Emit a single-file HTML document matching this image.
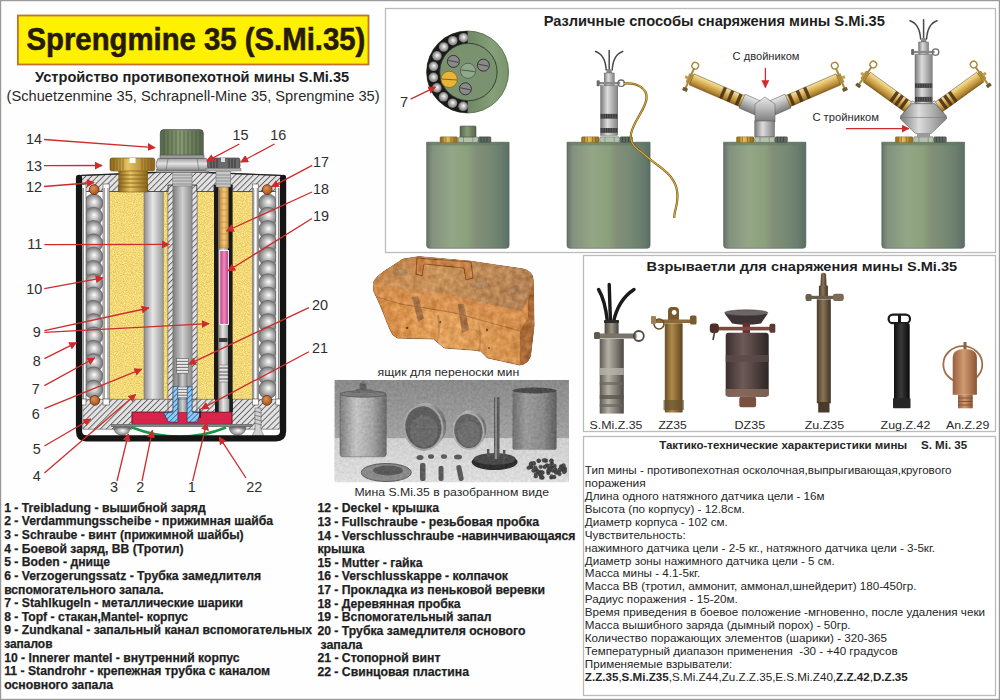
<!DOCTYPE html>
<html><head><meta charset="utf-8">
<style>
html,body{margin:0;padding:0;background:#fff;}
body{width:1000px;height:700px;overflow:hidden;font-family:"Liberation Sans",sans-serif;}
svg{display:block;}
text{font-family:"Liberation Sans",sans-serif;}
.b{font-weight:bold;}
</style></head><body>
<svg width="1000" height="700" viewBox="0 0 1000 700">
<defs>
<pattern id="hatch" patternUnits="userSpaceOnUse" width="4.2" height="4.2" patternTransform="rotate(45)">
<rect width="4.2" height="4.2" fill="#e2e2e2"/><rect x="0" width="0.9" height="4.2" fill="#5e5e5e"/>
</pattern>
<filter id="grain" x="0" y="0" width="1" height="1" color-interpolation-filters="sRGB">
<feTurbulence type="fractalNoise" baseFrequency="0.9" numOctaves="2" seed="7" result="n"/>
<feColorMatrix in="n" type="matrix" values="1 0 0 0 0  1 0 0 0 0  1 0 0 0 0  0 0 0 0 1" result="g"/>
<feComposite in="SourceGraphic" in2="g" operator="arithmetic" k1="0" k2="1" k3="0.3" k4="-0.15"/>
</filter>
<filter id="grain2" x="0" y="0" width="1" height="1" color-interpolation-filters="sRGB">
<feTurbulence type="fractalNoise" baseFrequency="0.16" numOctaves="4" seed="3" result="n"/>
<feColorMatrix in="n" type="matrix" values="1 0 0 0 0  1 0 0 0 0  1 0 0 0 0  0 0 0 0 1" result="g"/>
<feComposite in="SourceGraphic" in2="g" operator="arithmetic" k1="0" k2="1" k3="0.26" k4="-0.13" result="c"/>
<feComposite in="c" in2="SourceGraphic" operator="in"/>
</filter>
<filter id="grain3" x="0" y="0" width="1" height="1" color-interpolation-filters="sRGB">
<feTurbulence type="fractalNoise" baseFrequency="0.35" numOctaves="3" seed="11" result="n"/>
<feColorMatrix in="n" type="matrix" values="1 0 0 0 0  1 0 0 0 0  1 0 0 0 0  0 0 0 0 1" result="g"/>
<feComposite in="SourceGraphic" in2="g" operator="arithmetic" k1="0" k2="1" k3="0.12" k4="-0.06" result="c"/>
<feComposite in="c" in2="SourceGraphic" operator="in"/>
</filter>
<pattern id="bhatch" patternUnits="userSpaceOnUse" width="3.6" height="3.6" patternTransform="rotate(45)">
<rect width="3.6" height="3.6" fill="#90ccf2"/><rect x="0" width="0.9" height="3.6" fill="#3a70b0"/>
</pattern>
<pattern id="speck" patternUnits="userSpaceOnUse" width="7" height="7">
<rect width="7" height="7" fill="#f3d77a"/>
<circle cx="1.5" cy="1.5" r="0.7" fill="#fbeaa8"/><circle cx="5" cy="3.5" r="0.6" fill="#e2c25c"/>
<circle cx="3" cy="5.5" r="0.6" fill="#fbe8a0"/><circle cx="6" cy="6.2" r="0.5" fill="#dcb954"/>
</pattern>
<linearGradient id="tubeG" x1="0" x2="1" y1="0" y2="0">
<stop offset="0" stop-color="#8c8c8c"/><stop offset="0.45" stop-color="#e6e6e6"/><stop offset="1" stop-color="#9a9a9a"/>
</linearGradient>
<linearGradient id="tubeD" x1="0" x2="1" y1="0" y2="0">
<stop offset="0" stop-color="#7c7c7c"/><stop offset="0.5" stop-color="#cfcfcf"/><stop offset="1" stop-color="#8a8a8a"/>
</linearGradient>
<radialGradient id="ballG" cx="0.5" cy="0.5" r="0.5" fx="0.55" fy="0.42">
<stop offset="0" stop-color="#ffffff"/><stop offset="0.22" stop-color="#dedede"/><stop offset="0.6" stop-color="#aaaaaa"/><stop offset="1" stop-color="#747474"/>
</radialGradient>
<radialGradient id="rope" cx="0.4" cy="0.35" r="0.7">
<stop offset="0" stop-color="#e09050"/><stop offset="1" stop-color="#a0501c"/>
</radialGradient>
<linearGradient id="brassG" x1="0" x2="1" y1="0" y2="0">
<stop offset="0" stop-color="#8a6418"/><stop offset="0.4" stop-color="#e8c462"/><stop offset="1" stop-color="#8a6418"/>
</linearGradient>
<linearGradient id="capG" x1="0" x2="1" y1="0" y2="0">
<stop offset="0" stop-color="#55664a"/><stop offset="0.45" stop-color="#8a9b74"/><stop offset="1" stop-color="#55664a"/>
</linearGradient>
<linearGradient id="nutG" x1="0" x2="0" y1="0" y2="1">
<stop offset="0" stop-color="#9c9c9c"/><stop offset="0.45" stop-color="#e4e4e4"/><stop offset="1" stop-color="#8a8a8a"/>
</linearGradient>
<linearGradient id="woodG" x1="0" x2="1" y1="0" y2="0">
<stop offset="0" stop-color="#c88c38"/><stop offset="0.5" stop-color="#efcb7c"/><stop offset="1" stop-color="#c88c38"/>
</linearGradient>
<linearGradient id="pinkG" x1="0" x2="1" y1="0" y2="0">
<stop offset="0" stop-color="#b83a80"/><stop offset="0.5" stop-color="#f08ac0"/><stop offset="1" stop-color="#b83a80"/>
</linearGradient>
<linearGradient id="mineG" x1="0" x2="1" y1="0" y2="0">
<stop offset="0" stop-color="#66726a"/><stop offset="0.07" stop-color="#83917e"/><stop offset="0.3" stop-color="#93a686"/><stop offset="0.5" stop-color="#8ba07c"/><stop offset="0.6" stop-color="#838f78"/><stop offset="0.75" stop-color="#778a74"/><stop offset="0.9" stop-color="#6a7e6e"/><stop offset="1" stop-color="#5c6e66"/>
</linearGradient>
<linearGradient id="fuseG" x1="0" x2="1" y1="0" y2="0">
<stop offset="0" stop-color="#7a7a7a"/><stop offset="0.4" stop-color="#dcdcdc"/><stop offset="1" stop-color="#828282"/>
</linearGradient>
<linearGradient id="brassArm" x1="0" x2="0" y1="0" y2="1">
<stop offset="0" stop-color="#f6e4a8"/><stop offset="0.35" stop-color="#e0bc62"/><stop offset="0.75" stop-color="#b88a34"/><stop offset="1" stop-color="#8a6420"/>
</linearGradient>
<linearGradient id="armG" x1="0" x2="0" y1="0" y2="1">
<stop offset="0" stop-color="#e8e8e8"/><stop offset="0.4" stop-color="#c0c0c0"/><stop offset="1" stop-color="#7a7a7a"/>
</linearGradient>
<marker id="ah" viewBox="0 0 10 10" refX="9" refY="5" markerWidth="8" markerHeight="8" markerUnits="userSpaceOnUse" orient="auto">
<path d="M0,0 L10,5 L0,10 Z" fill="#d02a2a"/>
</marker>
<linearGradient id="boxTop" x1="0" x2="1" y1="0" y2="0.3">
<stop offset="0" stop-color="#c4844a"/><stop offset="0.45" stop-color="#c8925a"/><stop offset="1" stop-color="#b48254"/>
</linearGradient>
<linearGradient id="boxFront" x1="0" x2="1" y1="0" y2="0">
<stop offset="0" stop-color="#d48a44"/><stop offset="0.45" stop-color="#e2a25e"/><stop offset="1" stop-color="#d08c4a"/>
</linearGradient>
<linearGradient id="wallG" x1="0" x2="0" y1="0" y2="1">
<stop offset="0" stop-color="#8a8a8a"/><stop offset="1" stop-color="#a2a2a2"/>
</linearGradient>
<linearGradient id="tableG" x1="0" x2="0" y1="0" y2="1">
<stop offset="0" stop-color="#cfcfcf"/><stop offset="1" stop-color="#dedede"/>
</linearGradient>
<linearGradient id="cylG" x1="0" x2="1" y1="0" y2="0">
<stop offset="0" stop-color="#7e7e7e"/><stop offset="0.35" stop-color="#c4c4c4"/><stop offset="0.7" stop-color="#a4a4a4"/><stop offset="1" stop-color="#6a6a6a"/>
</linearGradient>
<linearGradient id="cylG2" x1="0" x2="1" y1="0" y2="0">
<stop offset="0" stop-color="#6e6e6e"/><stop offset="0.3" stop-color="#9a9a9a"/><stop offset="0.7" stop-color="#8a8a8a"/><stop offset="1" stop-color="#5e5e5e"/>
</linearGradient>
<linearGradient id="f1neck" x1="0" x2="1"><stop offset="0" stop-color="#4e4a40"/><stop offset="0.5" stop-color="#9a9488"/><stop offset="1" stop-color="#4a463e"/></linearGradient>
<linearGradient id="f1body" x1="0" x2="1"><stop offset="0" stop-color="#5e5a52"/><stop offset="0.35" stop-color="#b4b0a6"/><stop offset="0.6" stop-color="#8e8a80"/><stop offset="1" stop-color="#4e4a44"/></linearGradient>
<linearGradient id="f2body" x1="0" x2="1"><stop offset="0" stop-color="#6a4e26"/><stop offset="0.4" stop-color="#b08a4a"/><stop offset="1" stop-color="#5e4420"/></linearGradient>
<linearGradient id="f3cap" x1="0" x2="0" y1="0" y2="1"><stop offset="0" stop-color="#8a8484"/><stop offset="1" stop-color="#4a4444"/></linearGradient>
<linearGradient id="f3body" x1="0" x2="1"><stop offset="0" stop-color="#3a2e2e"/><stop offset="0.4" stop-color="#6e5a58"/><stop offset="1" stop-color="#2e2626"/></linearGradient>
<linearGradient id="f4body" x1="0" x2="1"><stop offset="0" stop-color="#4a3c2c"/><stop offset="0.45" stop-color="#8a7456"/><stop offset="1" stop-color="#3e3222"/></linearGradient>
<linearGradient id="f5body" x1="0" x2="1"><stop offset="0" stop-color="#0e0e0e"/><stop offset="0.45" stop-color="#3a3a3a"/><stop offset="1" stop-color="#0a0a0a"/></linearGradient>
<linearGradient id="f6body" x1="0" x2="1"><stop offset="0" stop-color="#9a6040"/><stop offset="0.45" stop-color="#d09a70"/><stop offset="1" stop-color="#8a5434"/></linearGradient>
<linearGradient id="topG" x1="0" x2="1" y1="0" y2="0">
<stop offset="0.5" stop-color="#6e8664"/><stop offset="0.8" stop-color="#86a078"/><stop offset="1" stop-color="#7a946e"/>
</linearGradient>

</defs>
<rect x="0" y="0" width="1000" height="700" fill="#fefefe"/>
<!-- outer border -->
<rect x="0.6" y="0.6" width="998.8" height="698.8" fill="none" stroke="#999" stroke-width="1.2"/>

<!-- panels -->
<rect x="385.5" y="8.5" width="610" height="244" fill="#fff" stroke="#bcbcbc" stroke-width="1.3"/>
<rect x="583.5" y="255.5" width="412" height="176" fill="#fff" stroke="#bcbcbc" stroke-width="1.3"/>
<rect x="583.5" y="436.5" width="412" height="259" fill="#fff" stroke="#bcbcbc" stroke-width="1.3"/>

<!-- title -->
<rect x="17.9" y="15.5" width="350.6" height="49" fill="#fff100" stroke="#c2722c" stroke-width="1.8"/>
<text x="26.5" y="50" font-size="30.5" class="b" fill="#261a0c" stroke="#261a0c" stroke-width="0.55" textLength="338.8" lengthAdjust="spacingAndGlyphs">Sprengmine 35 (S.Mi.35)</text>
<text x="35" y="81.6" font-size="14" class="b" fill="#1e1e1e" textLength="314.2" lengthAdjust="spacingAndGlyphs">Устройство противопехотной мины S.Mi.35</text>
<text x="6.6" y="101.3" font-size="14" fill="#2a2a2a" textLength="373" lengthAdjust="spacingAndGlyphs">(Schuetzenmine 35, Schrapnell-Mine 35, Sprengmine 35)</text>

<g id="diagram">
<!-- interior white background -->
<rect x="81" y="175" width="200" height="262" fill="#ffffff"/>
<!-- yellow explosive -->
<rect x="107.6" y="190" width="145.6" height="210" fill="#f2d877" filter="url(#grain)"/>
<!-- balls left & right -->
<g id="ballsL" stroke="#5e5e5e" stroke-width="0.6">
<circle cx="93.5" cy="203.2" r="9.3" fill="url(#ballG)"/>
<circle cx="93.5" cy="216.5" r="9.3" fill="url(#ballG)"/>
<circle cx="93.5" cy="229.8" r="9.3" fill="url(#ballG)"/>
<circle cx="93.5" cy="243.1" r="9.3" fill="url(#ballG)"/>
<circle cx="93.5" cy="256.4" r="9.3" fill="url(#ballG)"/>
<circle cx="93.5" cy="269.7" r="9.3" fill="url(#ballG)"/>
<circle cx="93.5" cy="283.0" r="9.3" fill="url(#ballG)"/>
<circle cx="93.5" cy="296.3" r="9.3" fill="url(#ballG)"/>
<circle cx="93.5" cy="309.6" r="9.3" fill="url(#ballG)"/>
<circle cx="93.5" cy="322.9" r="9.3" fill="url(#ballG)"/>
<circle cx="93.5" cy="336.2" r="9.3" fill="url(#ballG)"/>
<circle cx="93.5" cy="349.5" r="9.3" fill="url(#ballG)"/>
<circle cx="93.5" cy="362.8" r="9.3" fill="url(#ballG)"/>
<circle cx="93.5" cy="376.1" r="9.3" fill="url(#ballG)"/>
<circle cx="93.5" cy="389.4" r="9.3" fill="url(#ballG)"/>
</g>
<use href="#ballsL" transform="translate(174.3,0)"/>
<!-- left grey tube 9 -->
<rect x="144" y="191" width="19.2" height="209" fill="url(#tubeG)" stroke="#707070" stroke-width="0.6"/>
<!-- central tube hatched walls + tube 11 -->
<rect x="167.9" y="185" width="29.2" height="226.4" fill="url(#hatch)" stroke="#555" stroke-width="0.6"/>
<rect x="172.9" y="185" width="19.2" height="202" fill="url(#tubeD)" stroke="#666" stroke-width="0.5"/>
<rect x="172.9" y="386" width="19.2" height="26" fill="#fff"/>
<rect x="177.9" y="373" width="9.2" height="28" fill="url(#tubeD)" stroke="#666" stroke-width="0.4"/>
<!-- threads 20 in central tube -->
<g fill="#e8e8e8" stroke="#5a5a5a" stroke-width="0.6">
<rect x="176.4" y="358.6" width="12.2" height="2.6"/><rect x="176.4" y="361.6" width="12.2" height="2.6"/>
<rect x="176.4" y="364.6" width="12.2" height="2.6"/><rect x="176.4" y="367.6" width="12.2" height="2.6"/>
<rect x="176.4" y="370.6" width="12.2" height="2.6"/>
</g>
<!-- right fuse tube 19 -->
<rect x="214" y="185" width="4.6" height="215" fill="#1a1a1a"/>
<rect x="228" y="185" width="4.6" height="215" fill="#1a1a1a"/>
<rect x="218.6" y="191" width="9.4" height="218" fill="url(#tubeG)"/>
<rect x="219.6" y="186" width="9" height="62" fill="url(#woodG)" stroke="#8a5a20" stroke-width="0.5"/>
<g stroke="#a87028" stroke-width="0.4"><line x1="220" y1="192" x2="228.2" y2="192"/><line x1="220" y1="198" x2="228.2" y2="198"/><line x1="220" y1="204" x2="228.2" y2="204"/><line x1="220" y1="210" x2="228.2" y2="210"/><line x1="220" y1="216" x2="228.2" y2="216"/><line x1="220" y1="222" x2="228.2" y2="222"/><line x1="220" y1="228" x2="228.2" y2="228"/><line x1="220" y1="234" x2="228.2" y2="234"/><line x1="220" y1="240" x2="228.2" y2="240"/><line x1="220" y1="246" x2="228.2" y2="246"/></g>
<rect x="219.8" y="250.5" width="8.6" height="74" fill="url(#pinkG)" stroke="#fff" stroke-width="0.9"/>
<rect x="219" y="338" width="8.6" height="4" fill="#3a3a3a"/>
<g fill="#e0e0e0" stroke="#5a5a5a" stroke-width="0.5">
<rect x="219" y="365" width="9" height="2.6"/><rect x="219" y="368.6" width="9" height="2.6"/><rect x="219" y="372.2" width="9" height="2.6"/><rect x="219" y="375.8" width="9" height="2.6"/><rect x="219" y="379.4" width="9" height="2.6"/>
</g>

<!-- lid 12 (hatched) -->
<path d="M80.5,175.6 L181,171.6 L282,175.6 L282,191.5 L232.6,191.5 L232.6,185 L214,185 L214,191.5 L196.8,191.5 L196.8,185 L168,185 L168,191.5 L147.6,191.5 L147.6,185 L118.8,185 L118.8,191.5 L80.5,191.5 Z" fill="url(#hatch)" stroke="#333" stroke-width="0.8"/>
<path d="M81,175.4 L181,171.4 L281,175.4" fill="none" stroke="#222" stroke-width="1.1"/>
<!-- thin outer walls and inner mantles (10) -->
<g stroke="#4a4a4a" stroke-width="0.6">
<rect x="81.6" y="184.5" width="4.4" height="220" fill="#fff"/>
<rect x="103" y="184" width="6.2" height="221" fill="#fff"/>
<rect x="252.4" y="184" width="6.2" height="221" fill="#fff"/>
<rect x="275.8" y="184.5" width="4.4" height="220" fill="#fff"/>
</g>
<rect x="82.3" y="188" width="1.6" height="216" fill="#8a8a8a"/>
<rect x="103.5" y="188" width="1.4" height="216" fill="#9a9a9a"/><rect x="107.3" y="188" width="1.4" height="216" fill="#9a9a9a"/>
<rect x="252.9" y="188" width="1.4" height="216" fill="#9a9a9a"/><rect x="256.7" y="188" width="1.4" height="216" fill="#9a9a9a"/>
<rect x="277.9" y="188" width="1.6" height="216" fill="#8a8a8a"/>
<!-- rope gasket -->
<g fill="url(#rope)" stroke="#5a2a10" stroke-width="0.8">
<circle cx="94.2" cy="189.6" r="4.9"/><circle cx="267.2" cy="189.6" r="4.9"/>

</g>
<!-- brass plug 13 -->
<rect x="118.8" y="170" width="28.8" height="22" fill="url(#brassG)" stroke="#6a4a10" stroke-width="0.5"/>
<g stroke="#7a5a18" stroke-width="0.8"><line x1="119" y1="175" x2="147.4" y2="175"/><line x1="119" y1="179" x2="147.4" y2="179"/><line x1="119" y1="183" x2="147.4" y2="183"/><line x1="119" y1="187" x2="147.4" y2="187"/></g>
<rect x="110" y="158" width="44.8" height="13" rx="2" fill="url(#brassG)" stroke="#6a4a10" stroke-width="0.6"/>
<g stroke="#7a5a18" stroke-width="0.7"><line x1="114" y1="159" x2="114" y2="170"/><line x1="117" y1="159" x2="117" y2="170"/><line x1="120" y1="159" x2="120" y2="170"/><line x1="123" y1="159" x2="123" y2="170"/><line x1="142" y1="159" x2="142" y2="170"/><line x1="145" y1="159" x2="145" y2="170"/><line x1="148" y1="159" x2="148" y2="170"/><line x1="151" y1="159" x2="151" y2="170"/></g>
<rect x="129.5" y="158" width="6" height="5" fill="#fff"/>
<!-- central tube top inside lid (threads) -->
<rect x="172.8" y="172" width="19.2" height="14" fill="#c8c8c8" stroke="#666" stroke-width="0.5"/>
<g stroke="#777" stroke-width="0.7"><line x1="173" y1="175" x2="192" y2="175"/><line x1="173" y1="178" x2="192" y2="178"/><line x1="173" y1="181" x2="192" y2="181"/><line x1="173" y1="184" x2="192" y2="184"/></g>
<!-- right fuse top in lid -->
<rect x="216" y="171" width="14.6" height="16" fill="#c8c8c8" stroke="#666" stroke-width="0.5"/>
<g stroke="#777" stroke-width="0.7"><line x1="216" y1="175" x2="230.6" y2="175"/><line x1="216" y1="178" x2="230.6" y2="178"/><line x1="216" y1="181" x2="230.6" y2="181"/><line x1="216" y1="184" x2="230.6" y2="184"/></g>
<!-- nut 15 -->
<rect x="156.5" y="169.5" width="52" height="3" fill="#a8a8a8" stroke="#555" stroke-width="0.5"/>
<path d="M158,158.4 L206.5,158.4 Q210,164.4 206.5,170.4 L158,170.4 Q154.5,164.4 158,158.4 Z" fill="url(#nutG)" stroke="#555" stroke-width="0.6"/>
<line x1="168" y1="158.6" x2="166" y2="170.2" stroke="#666" stroke-width="0.6"/>
<line x1="197" y1="158.6" x2="199" y2="170.2" stroke="#666" stroke-width="0.6"/>
<!-- green cap 14 -->
<path d="M160.3,156 L160.3,133 Q160.3,129.6 164,129.6 L199.6,129.6 Q203.3,129.6 203.3,133 L203.3,156 Z" fill="url(#capG)" stroke="#333" stroke-width="0.6"/>
<g stroke="#3e4a32" stroke-width="0.7" opacity="0.8"><line x1="164" y1="131" x2="164" y2="155"/><line x1="168" y1="131" x2="168" y2="155"/><line x1="172" y1="131" x2="172" y2="155"/><line x1="176" y1="131" x2="176" y2="155"/><line x1="180" y1="131" x2="180" y2="155"/><line x1="184" y1="131" x2="184" y2="155"/><line x1="188" y1="131" x2="188" y2="155"/><line x1="192" y1="131" x2="192" y2="155"/><line x1="196" y1="131" x2="196" y2="155"/><line x1="200" y1="131" x2="200" y2="155"/></g>
<rect x="160" y="155" width="44" height="3.4" fill="#9a9a9a" stroke="#444" stroke-width="0.5"/>
<!-- cap 16 -->
<rect x="207.6" y="158" width="32.4" height="10.5" rx="2" fill="#6a6a6a" stroke="#333" stroke-width="0.6"/>
<g stroke="#2a2a2a" stroke-width="0.8"><line x1="211" y1="159" x2="211" y2="168"/><line x1="214" y1="159" x2="214" y2="168"/><line x1="217" y1="159" x2="217" y2="168"/><line x1="229" y1="159" x2="229" y2="168"/><line x1="232" y1="159" x2="232" y2="168"/><line x1="235" y1="159" x2="235" y2="168"/></g>
<rect x="221" y="158" width="4" height="4" fill="#ddd"/>
<rect x="206" y="168.2" width="35" height="2.8" fill="#b4b4b4" stroke="#555" stroke-width="0.4"/>

<!-- bottom plate 5 (hatched) -->
<path d="M82.8,399.3 L279.6,399.3 L279.6,429.2 L232,429.2 L232,412.1 L197.1,412.1 L197.1,399.3 L167.9,399.3 L167.9,412.1 L132,412.1 L132,429.2 L82.8,429.2 Z" fill="url(#hatch)" stroke="#555" stroke-width="0.6"/>
<rect x="215" y="399" width="17.9" height="13" fill="#1a1a1a"/><rect x="218.6" y="399" width="10.7" height="13" fill="url(#tubeG)"/>
<g stroke="#4a4a4a" stroke-width="0.6" fill="#fff">
<rect x="81.6" y="399" width="4.4" height="6"/><rect x="103" y="399" width="6.2" height="6"/>
<rect x="252.4" y="399" width="6.2" height="6"/><rect x="275.8" y="399" width="4.4" height="6"/>
</g>
<!-- red charge 1 -->
<rect x="132" y="412.1" width="100" height="12.2" fill="#d8234a" stroke="#5a0a1a" stroke-width="0.7"/>
<rect x="177.9" y="399.5" width="9.2" height="12.6" fill="url(#tubeD)"/>
<!-- blue fitting halves -->
<path d="M172.9,386.4 L177.9,386.4 L177.9,422.1 L168.6,422.1 L163.6,412.9 L172.9,412.1 Z" fill="url(#bhatch)" stroke="#1a3a6a" stroke-width="0.7"/>
<path d="M187.1,386.4 L192.1,386.4 L192.1,412.1 L200.7,412.9 L197.1,422.1 L187.1,422.1 Z" fill="url(#bhatch)" stroke="#1a3a6a" stroke-width="0.7"/>
<g fill="#e8e8e8" stroke="#5a5a5a" stroke-width="0.5">
<rect x="177.9" y="387" width="9.2" height="2.4"/><rect x="177.9" y="389.8" width="9.2" height="2.4"/><rect x="177.9" y="392.6" width="9.2" height="2.4"/><rect x="177.9" y="395.4" width="9.2" height="2.4"/>
</g>
<line x1="200" y1="408.6" x2="200" y2="418" stroke="#111" stroke-width="1.3"/>
<!-- rope gasket bottom -->
<g fill="url(#rope)" stroke="#5a2a10" stroke-width="0.8"><circle cx="94.8" cy="400.4" r="4.9"/><circle cx="266.9" cy="400.4" r="4.9"/></g>
<!-- plate 2 -->
<rect x="111.6" y="424.2" width="140.4" height="2.6" fill="#8a8a8a" stroke="#444" stroke-width="0.4"/>
<!-- screws 3 -->
<path d="M113.5,427 A8.5,8.5 0 0 0 130.5,427 Z" fill="url(#ballG)" stroke="#555" stroke-width="0.5"/>
<path d="M229,427 A8.5,8.5 0 0 0 246,427 Z" fill="url(#ballG)" stroke="#555" stroke-width="0.5"/>
<!-- green lead plate 22 -->
<path d="M132,427.5 Q180,446 226,427.5" fill="none" stroke="#18984a" stroke-width="2.6"/>
<!-- wood screw -->
<path d="M255,408 L261,408 L261,430 L264,436 L252,436 L255,430 Z" fill="#d0d0d0" stroke="#555" stroke-width="0.5"/>
<g stroke="#666" stroke-width="0.7"><line x1="254" y1="411" x2="262" y2="413"/><line x1="254" y1="415" x2="262" y2="417"/><line x1="254" y1="419" x2="262" y2="421"/><line x1="254" y1="423" x2="262" y2="425"/></g>

<!-- black casing 8 -->
<path d="M79,177.8 L79,431 Q79,438.3 86.3,438.3 L275.8,438.3 Q283.1,438.3 283.1,431 L283.1,177.8" fill="none" stroke="#151515" stroke-width="6.2" stroke-linejoin="round" stroke-linecap="round"/>

<!-- red leader lines -->
<g stroke="#cc2c2c" stroke-width="1.3" fill="none" marker-end="url(#ah)">
<line x1="44" y1="139.5" x2="155" y2="147.6"/>
<line x1="44" y1="165.7" x2="102" y2="165.5"/>
<line x1="44" y1="186.5" x2="94" y2="182.5"/>
<line x1="44.3" y1="244.6" x2="169.2" y2="244.4"/>
<line x1="44.3" y1="288.6" x2="102.9" y2="277.9"/>
<line x1="44.4" y1="330.6" x2="148.8" y2="308"/>
<line x1="44.4" y1="332.4" x2="209" y2="323.6"/>
<line x1="44.4" y1="358.6" x2="76.4" y2="342.6"/>
<line x1="44.4" y1="385.6" x2="94.6" y2="358"/>
<line x1="44.4" y1="408.7" x2="141.6" y2="369.2"/>
<line x1="44.4" y1="446" x2="90.7" y2="419"/>
<line x1="44.4" y1="473" x2="135.6" y2="394.4"/>
<line x1="117" y1="481" x2="128.4" y2="434"/>
<line x1="142" y1="481" x2="152.4" y2="430.4"/>
<line x1="192.6" y1="481.2" x2="206.7" y2="423"/>
<line x1="246" y1="478" x2="219.3" y2="437.2"/>
<line x1="308.9" y1="351.7" x2="201.4" y2="408.9"/>
<line x1="308.9" y1="307.7" x2="188.8" y2="364.2"/>
<line x1="312" y1="218.5" x2="228" y2="270.8"/>
<line x1="312" y1="192" x2="226.6" y2="231"/>
<line x1="312.2" y1="165.4" x2="271.6" y2="186.8"/>
<line x1="274.5" y1="144" x2="240.8" y2="162"/>
<line x1="239.4" y1="144" x2="206.9" y2="161.1"/>
</g>
<g font-size="15.0" fill="#2e2e2e">
<text transform="translate(26.00,143.8) scale(0.96,1)" x="0" y="0">14</text>
<text transform="translate(26.00,170.5) scale(0.96,1)" x="0" y="0">13</text>
<text transform="translate(26.00,191.5) scale(0.96,1)" x="0" y="0">12</text>
<text transform="translate(27.20,249.3) scale(0.96,1)" x="0" y="0">11</text>
<text transform="translate(26.20,293.6) scale(0.96,1)" x="0" y="0">10</text>
<text transform="translate(32.80,336.7) scale(0.96,1)" x="0" y="0">9</text>
<text transform="translate(32.80,366.3) scale(0.96,1)" x="0" y="0">8</text>
<text transform="translate(31.80,394) scale(0.96,1)" x="0" y="0">7</text>
<text transform="translate(31.80,419) scale(0.96,1)" x="0" y="0">6</text>
<text transform="translate(32.80,453.7) scale(0.96,1)" x="0" y="0">5</text>
<text transform="translate(32.80,480.7) scale(0.96,1)" x="0" y="0">4</text>
<text transform="translate(110.00,491.8) scale(0.96,1)" x="0" y="0">3</text>
<text transform="translate(136.20,492.2) scale(0.96,1)" x="0" y="0">2</text>
<text transform="translate(187.80,492.2) scale(0.96,1)" x="0" y="0">1</text>
<text transform="translate(246.20,492.2) scale(0.96,1)" x="0" y="0">22</text>
<text transform="translate(232.60,140.2) scale(0.96,1)" x="0" y="0">15</text>
<text transform="translate(270.20,140.2) scale(0.96,1)" x="0" y="0">16</text>
<text transform="translate(313.00,167.1) scale(0.96,1)" x="0" y="0">17</text>
<text transform="translate(313.00,193.7) scale(0.96,1)" x="0" y="0">18</text>
<text transform="translate(313.00,220.8) scale(0.96,1)" x="0" y="0">19</text>
<text transform="translate(312.00,309.8) scale(0.96,1)" x="0" y="0">20</text>
<text transform="translate(312.00,353.2) scale(0.96,1)" x="0" y="0">21</text>
</g>
</g>


<circle cx="467.6" cy="72" r="41" fill="url(#topG)" stroke="#4d6244" stroke-width="0.8"/>
<path d="M467.6,31 A41,41 0 0 0 467.6,113 Z" fill="#1a1a1a"/>
<circle cx="463.4" cy="37.7" r="4.8" fill="url(#ballG)"/>
<circle cx="452.8" cy="40.7" r="4.8" fill="url(#ballG)"/>
<circle cx="443.7" cy="47.0" r="4.8" fill="url(#ballG)"/>
<circle cx="437.0" cy="55.9" r="4.8" fill="url(#ballG)"/>
<circle cx="433.5" cy="66.3" r="4.8" fill="url(#ballG)"/>
<circle cx="433.4" cy="77.4" r="4.8" fill="url(#ballG)"/>
<circle cx="436.9" cy="87.9" r="4.8" fill="url(#ballG)"/>
<circle cx="443.5" cy="96.8" r="4.8" fill="url(#ballG)"/>
<circle cx="452.5" cy="103.2" r="4.8" fill="url(#ballG)"/>
<circle cx="463.1" cy="106.3" r="4.8" fill="url(#ballG)"/>
<circle cx="468.40000000000003" cy="72" r="28.7" fill="#7a9270" stroke="#2e3a2a" stroke-width="0.9"/>
<circle cx="453.4" cy="61.4" r="6" fill="#8a8a8a" stroke="#2a2a2a" stroke-width="0.9"/>
<line x1="448.4" y1="60.4" x2="458.4" y2="62.4" stroke="#3a3a3a" stroke-width="0.9"/>
<circle cx="483.4" cy="65.2" r="6" fill="#8a8a8a" stroke="#2a2a2a" stroke-width="0.9"/>
<line x1="478.4" y1="64.2" x2="488.4" y2="66.2" stroke="#3a3a3a" stroke-width="0.9"/>
<circle cx="465.4" cy="88.8" r="6" fill="#8a8a8a" stroke="#2a2a2a" stroke-width="0.9"/>
<line x1="460.4" y1="87.8" x2="470.4" y2="89.8" stroke="#3a3a3a" stroke-width="0.9"/>
<circle cx="468" cy="70.8" r="7.6" fill="#8fa88a" stroke="#4a5a4a" stroke-width="0.8"/>
<line x1="461.5" y1="70" x2="474.5" y2="71.6" stroke="#4a5a4a" stroke-width="1"/>
<circle cx="449.2" cy="79.4" r="8.2" fill="#e8b43a" stroke="#8a6418" stroke-width="0.8"/>
<line x1="441.5" y1="79" x2="457" y2="80" stroke="#8a6418" stroke-width="1.1"/>
<text x="399.9" y="106.8" font-size="14.6" fill="#2e2e2e">7</text>
<line x1="410.6" y1="99.1" x2="435.4" y2="87.1" stroke="#cc2c2c" stroke-width="1.3" marker-end="url(#ah)"/>
<path d="M426.6,142.2 L509.1,142.2 L509.1,245.3 Q509.1,248.3 506.1,248.3 L429.6,248.3 Q426.6,248.3 426.6,245.3 Z" fill="url(#mineG)" stroke="#4e6452" stroke-width="0.6"/>
<rect x="426.6" y="142.2" width="82.5" height="3.2" fill="#5d7660" opacity="0.55"/>
<rect x="440.0" y="136.8" width="17.5" height="5.6" rx="1" fill="url(#brassG)" stroke="#7a5a18" stroke-width="0.4"/>
<g stroke="#7a5a18" stroke-width="0.6"><line x1="443.0" y1="137" x2="443.0" y2="142"/><line x1="446.0" y1="137" x2="446.0" y2="142"/><line x1="451.0" y1="137" x2="451.0" y2="142"/><line x1="454.0" y1="137" x2="454.0" y2="142"/></g>
<path d="M459.0,136.8 L477.3,136.8 Q479.5,139.6 477.3,142.4 L459.0,142.4 Q456.8,139.6 459.0,136.8 Z" fill="#b4c2ae" stroke="#4e5e4e" stroke-width="0.5"/>
<g stroke="#5e6e5e" stroke-width="0.5"><line x1="463.5" y1="137" x2="463.5" y2="142.2"/><line x1="472.8" y1="137" x2="472.8" y2="142.2"/></g>
<rect x="478.5" y="136.8" width="12.5" height="5.6" rx="1" fill="#5c6a5e" stroke="#3a443a" stroke-width="0.4"/>
<g stroke="#2e362e" stroke-width="0.6"><line x1="481.0" y1="137" x2="481.0" y2="142"/><line x1="484.0" y1="137" x2="484.0" y2="142"/><line x1="487.0" y1="137" x2="487.0" y2="142"/></g>
<rect x="460.0" y="126" width="16" height="11" rx="1" fill="url(#capG)" stroke="#3e4a3e" stroke-width="0.5"/>
<path d="M567,142.2 L650.1,142.2 L650.1,245.3 Q650.1,248.3 647.1,248.3 L570,248.3 Q567,248.3 567,245.3 Z" fill="url(#mineG)" stroke="#4e6452" stroke-width="0.6"/>
<rect x="567" y="142.2" width="83.10000000000002" height="3.2" fill="#5d7660" opacity="0.55"/>
<rect x="581.5" y="136.8" width="17.5" height="5.6" rx="1" fill="url(#brassG)" stroke="#7a5a18" stroke-width="0.4"/>
<g stroke="#7a5a18" stroke-width="0.6"><line x1="584.5" y1="137" x2="584.5" y2="142"/><line x1="587.5" y1="137" x2="587.5" y2="142"/><line x1="592.5" y1="137" x2="592.5" y2="142"/><line x1="595.5" y1="137" x2="595.5" y2="142"/></g>
<path d="M600.5,136.8 L618.8,136.8 Q621.0,139.6 618.8,142.4 L600.5,142.4 Q598.2,139.6 600.5,136.8 Z" fill="#b4c2ae" stroke="#4e5e4e" stroke-width="0.5"/>
<g stroke="#5e6e5e" stroke-width="0.5"><line x1="605.0" y1="137" x2="605.0" y2="142.2"/><line x1="614.2" y1="137" x2="614.2" y2="142.2"/></g>
<rect x="620.0" y="136.8" width="12.5" height="5.6" rx="1" fill="#5c6a5e" stroke="#3a443a" stroke-width="0.4"/>
<g stroke="#2e362e" stroke-width="0.6"><line x1="622.5" y1="137" x2="622.5" y2="142"/><line x1="625.5" y1="137" x2="625.5" y2="142"/><line x1="628.5" y1="137" x2="628.5" y2="142"/></g>
<g fill="none" stroke="#4a4a4a" stroke-width="1.5" stroke-linecap="round">
<path d="M606.2,70 Q605.2,54.5 595.5,51.5"/>
<path d="M609.2,70 L609.2,50.5"/>
<path d="M612.2,70 Q613.2,54.5 622.7,51.5"/>
</g>
<path d="M606.2,73 L607.2,69 L611.2,69 L612.2,73 Z" fill="#888"/>
<rect x="604.2" y="73" width="10" height="12.599999999999994" fill="url(#fuseG)" stroke="#555" stroke-width="0.4"/>
<rect x="598.2" y="82.0" width="22" height="2.4" fill="#8a8a8a"/>
<rect x="596.7" y="80.19999999999999" width="3" height="6" rx="1" fill="#6a6a6a"/>
<circle cx="621.2" cy="83.19999999999999" r="3.2" fill="none" stroke="#6a6a6a" stroke-width="1.3"/>
<rect x="600.6" y="85.6" width="17.2" height="49.80000000000001" fill="url(#fuseG)" stroke="#555" stroke-width="0.4"/>
<rect x="600.6" y="113.9" width="17.2" height="4.699999999999989" fill="#3a3a3a"/>
<g stroke="#8a8a8a" stroke-width="0.5"><line x1="603.0" y1="113.9" x2="603.0" y2="118.6"/><line x1="605.4" y1="113.9" x2="605.4" y2="118.6"/><line x1="607.8" y1="113.9" x2="607.8" y2="118.6"/><line x1="610.2" y1="113.9" x2="610.2" y2="118.6"/><line x1="612.6" y1="113.9" x2="612.6" y2="118.6"/><line x1="615.0" y1="113.9" x2="615.0" y2="118.6"/><line x1="617.4" y1="113.9" x2="617.4" y2="118.6"/></g>
<rect x="600.6" y="128" width="17.2" height="4.800000000000011" fill="#3a3a3a"/>
<g stroke="#8a8a8a" stroke-width="0.5"><line x1="603.0" y1="128" x2="603.0" y2="132.8"/><line x1="605.4" y1="128" x2="605.4" y2="132.8"/><line x1="607.8" y1="128" x2="607.8" y2="132.8"/><line x1="610.2" y1="128" x2="610.2" y2="132.8"/><line x1="612.6" y1="128" x2="612.6" y2="132.8"/><line x1="615.0" y1="128" x2="615.0" y2="132.8"/><line x1="617.4" y1="128" x2="617.4" y2="132.8"/></g>
<path d="M623.6,83.6 C636,82 648,88 646.5,99 C645,110 633,122 631,134 C629,146 640,150 646,156 C656,165 672,172 676.5,188 C680,202 674,210 674.2,218" fill="none" stroke="#6a5010" stroke-width="2.2"/>
<path d="M623.6,83.6 C636,82 648,88 646.5,99 C645,110 633,122 631,134 C629,146 640,150 646,156 C656,165 672,172 676.5,188 C680,202 674,210 674.2,218" fill="none" stroke="#d8b040" stroke-width="1.1"/>
<path d="M723.6,142.2 L805.9,142.2 L805.9,245.3 Q805.9,248.3 802.9,248.3 L726.6,248.3 Q723.6,248.3 723.6,245.3 Z" fill="url(#mineG)" stroke="#4e6452" stroke-width="0.6"/>
<rect x="723.6" y="142.2" width="82.29999999999995" height="3.2" fill="#5d7660" opacity="0.55"/>
<rect x="736.5" y="136.8" width="17.5" height="5.6" rx="1" fill="url(#brassG)" stroke="#7a5a18" stroke-width="0.4"/>
<g stroke="#7a5a18" stroke-width="0.6"><line x1="739.5" y1="137" x2="739.5" y2="142"/><line x1="742.5" y1="137" x2="742.5" y2="142"/><line x1="747.5" y1="137" x2="747.5" y2="142"/><line x1="750.5" y1="137" x2="750.5" y2="142"/></g>
<path d="M755.5,136.8 L773.8,136.8 Q776.0,139.6 773.8,142.4 L755.5,142.4 Q753.2,139.6 755.5,136.8 Z" fill="#b4c2ae" stroke="#4e5e4e" stroke-width="0.5"/>
<g stroke="#5e6e5e" stroke-width="0.5"><line x1="760.0" y1="137" x2="760.0" y2="142.2"/><line x1="769.2" y1="137" x2="769.2" y2="142.2"/></g>
<rect x="775.0" y="136.8" width="12.5" height="5.6" rx="1" fill="#5c6a5e" stroke="#3a443a" stroke-width="0.4"/>
<g stroke="#2e362e" stroke-width="0.6"><line x1="777.5" y1="137" x2="777.5" y2="142"/><line x1="780.5" y1="137" x2="780.5" y2="142"/><line x1="783.5" y1="137" x2="783.5" y2="142"/></g>
<g transform="translate(765,111) scale(-1,1) rotate(-23.3)">
<rect x="23" y="-6.0" width="57" height="12" fill="url(#brassArm)" stroke="#6a4a10" stroke-width="0.5"/>
<rect x="27" y="-6.0" width="3.4" height="12" fill="#4a3218" opacity="0.9"/>
<rect x="36" y="-6.0" width="3.4" height="12" fill="#4a3218" opacity="0.9"/>
<rect x="44" y="-6.0" width="3.4" height="12" fill="#4a3218" opacity="0.9"/>
<rect x="80" y="-4.5" width="4" height="9" fill="#c8a048" stroke="#6a4a10" stroke-width="0.4"/>
<rect x="81" y="-11.0" width="2" height="22" fill="#a88838"/>
<circle cx="82" cy="-14.0" r="3.3" fill="none" stroke="#a88838" stroke-width="1.4"/>
<rect x="79.5" y="10.0" width="5" height="3.5" fill="#6a5a30"/>
<rect x="84" y="-1.5" width="3" height="3" fill="#c8a048"/>
<rect x="0" y="-7.5" width="25" height="15" fill="url(#armG)" stroke="#555" stroke-width="0.5"/>
</g>
<g transform="translate(765,111) rotate(-23.3)">
<rect x="23" y="-6.0" width="57" height="12" fill="url(#brassArm)" stroke="#6a4a10" stroke-width="0.5"/>
<rect x="27" y="-6.0" width="3.4" height="12" fill="#4a3218" opacity="0.9"/>
<rect x="36" y="-6.0" width="3.4" height="12" fill="#4a3218" opacity="0.9"/>
<rect x="44" y="-6.0" width="3.4" height="12" fill="#4a3218" opacity="0.9"/>
<rect x="80" y="-4.5" width="4" height="9" fill="#c8a048" stroke="#6a4a10" stroke-width="0.4"/>
<rect x="81" y="-11.0" width="2" height="22" fill="#a88838"/>
<circle cx="82" cy="-14.0" r="3.3" fill="none" stroke="#a88838" stroke-width="1.4"/>
<rect x="79.5" y="10.0" width="5" height="3.5" fill="#6a5a30"/>
<rect x="84" y="-1.5" width="3" height="3" fill="#c8a048"/>
<rect x="0" y="-7.5" width="25" height="15" fill="url(#armG)" stroke="#555" stroke-width="0.5"/>
</g>
<path d="M755,104 L765,97 L775,104 L775,122 L755,122 Z" fill="url(#armG)" stroke="#555" stroke-width="0.5"/>
<rect x="754.8" y="121" width="19.6" height="15.8" fill="url(#fuseG)" stroke="#555" stroke-width="0.5"/>
<text x="732.6" y="60.2" font-size="11.2" fill="#2a2a2a" textLength="66.9" lengthAdjust="spacingAndGlyphs">С двойником</text>
<line x1="765.4" y1="67.8" x2="765.4" y2="87.5" stroke="#cc2c2c" stroke-width="1.3" marker-end="url(#ah)"/>
<path d="M881.8,142.2 L964.6,142.2 L964.6,245.3 Q964.6,248.3 961.6,248.3 L884.8,248.3 Q881.8,248.3 881.8,245.3 Z" fill="url(#mineG)" stroke="#4e6452" stroke-width="0.6"/>
<rect x="881.8" y="142.2" width="82.80000000000007" height="3.2" fill="#5d7660" opacity="0.55"/>
<rect x="895.4" y="136.8" width="17.5" height="5.6" rx="1" fill="url(#brassG)" stroke="#7a5a18" stroke-width="0.4"/>
<g stroke="#7a5a18" stroke-width="0.6"><line x1="898.4" y1="137" x2="898.4" y2="142"/><line x1="901.4" y1="137" x2="901.4" y2="142"/><line x1="906.4" y1="137" x2="906.4" y2="142"/><line x1="909.4" y1="137" x2="909.4" y2="142"/></g>
<path d="M914.4,136.8 L932.7,136.8 Q934.9,139.6 932.7,142.4 L914.4,142.4 Q912.2,139.6 914.4,136.8 Z" fill="#b4c2ae" stroke="#4e5e4e" stroke-width="0.5"/>
<g stroke="#5e6e5e" stroke-width="0.5"><line x1="918.9" y1="137" x2="918.9" y2="142.2"/><line x1="928.2" y1="137" x2="928.2" y2="142.2"/></g>
<rect x="933.9" y="136.8" width="12.5" height="5.6" rx="1" fill="#5c6a5e" stroke="#3a443a" stroke-width="0.4"/>
<g stroke="#2e362e" stroke-width="0.6"><line x1="936.4" y1="137" x2="936.4" y2="142"/><line x1="939.4" y1="137" x2="939.4" y2="142"/><line x1="942.4" y1="137" x2="942.4" y2="142"/></g>
<g transform="translate(923.5,118) scale(-1,1) rotate(-35.8)">
<rect x="17" y="-6.0" width="53" height="12" fill="url(#brassArm)" stroke="#6a4a10" stroke-width="0.5"/>
<rect x="22.5" y="-6.0" width="3.4" height="12" fill="#4a3218" opacity="0.9"/>
<rect x="28.5" y="-6.0" width="3.4" height="12" fill="#4a3218" opacity="0.9"/>
<rect x="34.5" y="-6.0" width="3.4" height="12" fill="#4a3218" opacity="0.9"/>
<rect x="70" y="-4.5" width="4" height="9" fill="#c8a048" stroke="#6a4a10" stroke-width="0.4"/>
<rect x="71" y="-11.0" width="2" height="22" fill="#a88838"/>
<circle cx="72" cy="-14.0" r="3.3" fill="none" stroke="#a88838" stroke-width="1.4"/>
<rect x="69.5" y="10.0" width="5" height="3.5" fill="#6a5a30"/>
<rect x="74" y="-1.5" width="3" height="3" fill="#c8a048"/>
<rect x="0" y="-7.5" width="19" height="15" fill="url(#armG)" stroke="#555" stroke-width="0.5"/>
</g>
<g transform="translate(923.5,118) rotate(-35.8)">
<rect x="17" y="-6.0" width="53" height="12" fill="url(#brassArm)" stroke="#6a4a10" stroke-width="0.5"/>
<rect x="22.5" y="-6.0" width="3.4" height="12" fill="#4a3218" opacity="0.9"/>
<rect x="28.5" y="-6.0" width="3.4" height="12" fill="#4a3218" opacity="0.9"/>
<rect x="34.5" y="-6.0" width="3.4" height="12" fill="#4a3218" opacity="0.9"/>
<rect x="70" y="-4.5" width="4" height="9" fill="#c8a048" stroke="#6a4a10" stroke-width="0.4"/>
<rect x="71" y="-11.0" width="2" height="22" fill="#a88838"/>
<circle cx="72" cy="-14.0" r="3.3" fill="none" stroke="#a88838" stroke-width="1.4"/>
<rect x="69.5" y="10.0" width="5" height="3.5" fill="#6a5a30"/>
<rect x="74" y="-1.5" width="3" height="3" fill="#c8a048"/>
<rect x="0" y="-7.5" width="19" height="15" fill="url(#armG)" stroke="#555" stroke-width="0.5"/>
</g>
<g fill="none" stroke="#4a4a4a" stroke-width="1.5" stroke-linecap="round">
<path d="M920.6,39 Q919.6,23.8 909.9,20.8"/>
<path d="M923.6,39 L923.6,19.8"/>
<path d="M926.6,39 Q927.6,23.8 937.1,20.8"/>
</g>
<path d="M920.6,42 L921.6,38 L925.6,38 L926.6,42 Z" fill="#888"/>
<rect x="918.6" y="42" width="10" height="12.5" fill="url(#fuseG)" stroke="#555" stroke-width="0.4"/>
<rect x="912.6" y="50.9" width="22" height="2.4" fill="#8a8a8a"/>
<rect x="911.1" y="49.1" width="3" height="6" rx="1" fill="#6a6a6a"/>
<circle cx="935.6" cy="52.1" r="3.2" fill="none" stroke="#6a6a6a" stroke-width="1.3"/>
<rect x="915.0" y="54.5" width="17.2" height="49.2" fill="url(#fuseG)" stroke="#555" stroke-width="0.4"/>
<rect x="915.0" y="83.4" width="17.2" height="4.5" fill="#3a3a3a"/>
<g stroke="#8a8a8a" stroke-width="0.5"><line x1="917.4" y1="83.4" x2="917.4" y2="87.9"/><line x1="919.8" y1="83.4" x2="919.8" y2="87.9"/><line x1="922.2" y1="83.4" x2="922.2" y2="87.9"/><line x1="924.6" y1="83.4" x2="924.6" y2="87.9"/><line x1="927.0" y1="83.4" x2="927.0" y2="87.9"/><line x1="929.4" y1="83.4" x2="929.4" y2="87.9"/><line x1="931.8" y1="83.4" x2="931.8" y2="87.9"/></g>
<rect x="915.0" y="96.9" width="17.2" height="4.8999999999999915" fill="#3a3a3a"/>
<g stroke="#8a8a8a" stroke-width="0.5"><line x1="917.4" y1="96.9" x2="917.4" y2="101.8"/><line x1="919.8" y1="96.9" x2="919.8" y2="101.8"/><line x1="922.2" y1="96.9" x2="922.2" y2="101.8"/><line x1="924.6" y1="96.9" x2="924.6" y2="101.8"/><line x1="927.0" y1="96.9" x2="927.0" y2="101.8"/><line x1="929.4" y1="96.9" x2="929.4" y2="101.8"/><line x1="931.8" y1="96.9" x2="931.8" y2="101.8"/></g>
<path d="M911.7,103.7 L934.8,103.7 L946.4,116 L946.4,119 L931,133.6 L915.5,133.6 L900.5,119 L900.5,116 Z" fill="url(#fuseG)" stroke="#555" stroke-width="0.6"/>
<path d="M900.5,117.5 L946.4,117.5" stroke="#777" stroke-width="0.6"/>
<rect x="917" y="133.6" width="13" height="3.4" fill="#9a9a9a"/>
<text x="812.4" y="121.3" font-size="11.2" fill="#2a2a2a" textLength="66.6" lengthAdjust="spacingAndGlyphs">С тройником</text>
<line x1="846" y1="128.6" x2="908.8" y2="128.6" stroke="#cc2c2c" stroke-width="1.3" marker-end="url(#ah)"/>

<g id="box" filter="url(#grain2)">
<path d="M373.1,283 Q375,276 392,266.2 L402.8,259 L419,256.5 L470,261 L523.4,268.9 Q533,271 533.3,280 L534.2,325.6 L530.6,356.2 Q528,364 519.8,365.2 L487.4,358 L480.2,350.8 L444.2,348.1 L433.4,339.1 L397.4,338.2 Q392,336 390,330 L380,305 L373.1,290 Z" fill="url(#boxFront)" stroke="#9a6030" stroke-width="0.8"/>
<path d="M373.1,284 Q375,276 392,266.2 L402.8,259 L419,256.5 L470,261 L523.4,268.9 Q533,271 533.3,280 L528,300 L521.6,311 L491,305 L455,296 L401,289 Z" fill="url(#boxTop)"/>
<path d="M373.1,284 L401,289 L455,296 L491,305 L521.6,311 L528,300 L528,318 L520,331 L491,323 L455,313 L401,304 L377,297 Z" fill="#d69050"/>
<path d="M377,297 L401,304 L455,313 L491,323 L520,331" fill="none" stroke="#a86a38" stroke-width="1.2" opacity="0.8"/>
<path d="M528,300 L533.3,280 L534.2,325.6 L530.6,356.2 Q528,364 519.8,365.2 L520,331 L528,318 Z" fill="#a86a36"/>
<path d="M417,258 L471,262 L473,278 L466,280 L464,268 L424,264 L422,276 L416,274 Z" fill="#c88448" stroke="#7a4418" stroke-width="0.8"/>
<path d="M412,297 L418,296 L424,318 L418,322 Z" fill="#9a6a44" opacity="0.85"/>
<path d="M458,304 L464,304 L469,330 L462,333 Z" fill="#9a6a44" opacity="0.85"/>
<g fill="#5a3418" opacity="0.8"><circle cx="407" cy="328" r="1.2"/><circle cx="440" cy="322" r="1.2"/><circle cx="487" cy="330" r="1.2"/><circle cx="489" cy="348" r="1"/></g>
<path d="M438,315 Q441,330 437,342 M478,322 Q482,338 479,352" fill="none" stroke="#b47a44" stroke-width="2" opacity="0.6"/>
<g fill="#8a7058" opacity="0.35"><ellipse cx="400" cy="272" rx="8" ry="4"/><ellipse cx="480" cy="285" rx="10" ry="4"/><ellipse cx="515" cy="290" rx="6" ry="5"/></g>
</g>
<g id="photo2" filter="url(#grain3)">
<rect x="334.4" y="379.9" width="234.5" height="58.5" fill="url(#wallG)"/>
<rect x="334.4" y="438.2" width="234.5" height="44.1" fill="url(#tableG)"/>
<rect x="340" y="393.5" width="46.3" height="63.3" rx="3" fill="url(#cylG)" stroke="#5a5a5a" stroke-width="0.5"/>
<ellipse cx="363.2" cy="394" rx="23.2" ry="3.2" fill="#7a7a7a" stroke="#4a4a4a" stroke-width="0.6"/>
<path d="M352,393 L356,389 L371,389 L375,393 Z" fill="#6a6a6a"/>
<rect x="359.5" y="383" width="7" height="7" rx="2" fill="#5e5e5e"/><rect x="361" y="380.5" width="4" height="3.5" rx="1.5" fill="#777"/>
<ellipse cx="427.5" cy="424.5" rx="18.5" ry="22" transform="rotate(-14 427.5 424.5)" fill="url(#cylG)"/>
<ellipse cx="423.4" cy="427.5" rx="19" ry="22.2" transform="rotate(-8 423.4 427.5)" fill="#5e5e5e" stroke="#a4a4a4" stroke-width="2"/>
<ellipse cx="424" cy="431" rx="14" ry="16" fill="#6a6a6a"/>
<ellipse cx="471.5" cy="428" rx="14.5" ry="18" transform="rotate(-14 471.5 428)" fill="url(#cylG)"/>
<ellipse cx="468.4" cy="431" rx="15" ry="18" transform="rotate(-8 468.4 431)" fill="#646464" stroke="#acacac" stroke-width="1.8"/>
<ellipse cx="469" cy="434" rx="11" ry="13" fill="#6e6e6e"/>
<ellipse cx="494.6" cy="462" rx="23" ry="8" fill="#2e2e2e"/><ellipse cx="494.6" cy="459" rx="21" ry="6" fill="#4a4a4a"/>
<rect x="494" y="397" width="5.5" height="62" fill="#5a5a5a"/><rect x="495" y="397" width="2" height="62" fill="#8a8a8a"/>
<rect x="487" y="449" width="2.4" height="10" fill="#555"/><rect x="503" y="450" width="2.4" height="9" fill="#555"/>
<rect x="512.5" y="390" width="44.1" height="59.7" rx="2" fill="url(#cylG2)"/>
<ellipse cx="534.5" cy="390.5" rx="22" ry="3" fill="#4a4a4a"/>
<ellipse cx="386.3" cy="472.5" rx="25" ry="9" fill="#8a8a8a" stroke="#4a4a4a" stroke-width="0.8"/><ellipse cx="388" cy="470.5" rx="15" ry="5" fill="#5a5a5a"/>
<g fill="#5a5a5a"><rect x="420" y="463" width="5.5" height="18" rx="2"/><rect x="438.5" y="466" width="5" height="15" rx="2"/><rect x="457.5" y="465" width="5" height="16" rx="2" transform="rotate(-12 460 473)"/><ellipse cx="420" cy="457.5" rx="3.5" ry="2.5"/><ellipse cx="431" cy="456.5" rx="3" ry="2.3"/><ellipse cx="444" cy="456.5" rx="3" ry="2.3"/><ellipse cx="458" cy="457" rx="4" ry="2.5"/></g>
<circle cx="533.7" cy="463.6" r="1.9" fill="#4a4a4a" stroke="#2a2a2a" stroke-width="0.3"/>
<circle cx="551.4" cy="460.6" r="1.9" fill="#4a4a4a" stroke="#2a2a2a" stroke-width="0.3"/>
<circle cx="544.8" cy="460.4" r="1.9" fill="#4a4a4a" stroke="#2a2a2a" stroke-width="0.3"/>
<circle cx="559.4" cy="470.1" r="1.9" fill="#4a4a4a" stroke="#2a2a2a" stroke-width="0.3"/>
<circle cx="561.1" cy="466.5" r="1.9" fill="#4a4a4a" stroke="#2a2a2a" stroke-width="0.3"/>
<circle cx="551.5" cy="467.2" r="1.9" fill="#4a4a4a" stroke="#2a2a2a" stroke-width="0.3"/>
<circle cx="536.3" cy="469.9" r="1.9" fill="#4a4a4a" stroke="#2a2a2a" stroke-width="0.3"/>
<circle cx="531.4" cy="467.1" r="1.9" fill="#4a4a4a" stroke="#2a2a2a" stroke-width="0.3"/>
<circle cx="555.3" cy="469.3" r="1.9" fill="#4a4a4a" stroke="#2a2a2a" stroke-width="0.3"/>
<circle cx="542.5" cy="477.5" r="1.9" fill="#4a4a4a" stroke="#2a2a2a" stroke-width="0.3"/>
<circle cx="546.8" cy="465.4" r="1.9" fill="#4a4a4a" stroke="#2a2a2a" stroke-width="0.3"/>
<circle cx="548.2" cy="465.8" r="1.9" fill="#4a4a4a" stroke="#2a2a2a" stroke-width="0.3"/>
<circle cx="540.7" cy="466.8" r="1.9" fill="#4a4a4a" stroke="#2a2a2a" stroke-width="0.3"/>
<circle cx="564.7" cy="469.1" r="1.9" fill="#4a4a4a" stroke="#2a2a2a" stroke-width="0.3"/>
<circle cx="548.3" cy="473.0" r="1.9" fill="#4a4a4a" stroke="#2a2a2a" stroke-width="0.3"/>
<circle cx="564.6" cy="468.1" r="1.9" fill="#4a4a4a" stroke="#2a2a2a" stroke-width="0.3"/>
<circle cx="541.2" cy="477.6" r="1.9" fill="#4a4a4a" stroke="#2a2a2a" stroke-width="0.3"/>
<circle cx="530.0" cy="467.2" r="1.9" fill="#4a4a4a" stroke="#2a2a2a" stroke-width="0.3"/>
<circle cx="551.4" cy="477.4" r="1.9" fill="#4a4a4a" stroke="#2a2a2a" stroke-width="0.3"/>
<circle cx="538.8" cy="460.8" r="1.9" fill="#4a4a4a" stroke="#2a2a2a" stroke-width="0.3"/>
<circle cx="554.6" cy="466.0" r="1.9" fill="#4a4a4a" stroke="#2a2a2a" stroke-width="0.3"/>
<circle cx="540.8" cy="471.8" r="1.9" fill="#4a4a4a" stroke="#2a2a2a" stroke-width="0.3"/>
<circle cx="549.1" cy="470.8" r="1.9" fill="#4a4a4a" stroke="#2a2a2a" stroke-width="0.3"/>
<circle cx="541.1" cy="475.6" r="1.9" fill="#4a4a4a" stroke="#2a2a2a" stroke-width="0.3"/>
<circle cx="562.5" cy="469.2" r="1.9" fill="#4a4a4a" stroke="#2a2a2a" stroke-width="0.3"/>
<circle cx="540.2" cy="473.3" r="1.9" fill="#4a4a4a" stroke="#2a2a2a" stroke-width="0.3"/>
<circle cx="551.8" cy="463.3" r="1.9" fill="#4a4a4a" stroke="#2a2a2a" stroke-width="0.3"/>
<circle cx="540.4" cy="474.7" r="1.9" fill="#4a4a4a" stroke="#2a2a2a" stroke-width="0.3"/>
<circle cx="544.7" cy="466.9" r="1.9" fill="#4a4a4a" stroke="#2a2a2a" stroke-width="0.3"/>
<circle cx="549.0" cy="468.8" r="1.9" fill="#4a4a4a" stroke="#2a2a2a" stroke-width="0.3"/>
<circle cx="546.0" cy="460.7" r="1.9" fill="#4a4a4a" stroke="#2a2a2a" stroke-width="0.3"/>
<circle cx="563.6" cy="469.9" r="1.9" fill="#4a4a4a" stroke="#2a2a2a" stroke-width="0.3"/>
<circle cx="535.9" cy="474.1" r="1.9" fill="#4a4a4a" stroke="#2a2a2a" stroke-width="0.3"/>
<circle cx="550.3" cy="469.1" r="1.9" fill="#4a4a4a" stroke="#2a2a2a" stroke-width="0.3"/>
<circle cx="554.2" cy="477.0" r="1.9" fill="#4a4a4a" stroke="#2a2a2a" stroke-width="0.3"/>
<circle cx="551.7" cy="476.4" r="1.9" fill="#4a4a4a" stroke="#2a2a2a" stroke-width="0.3"/>
<circle cx="563.5" cy="465.3" r="1.9" fill="#4a4a4a" stroke="#2a2a2a" stroke-width="0.3"/>
<circle cx="539.3" cy="473.4" r="1.9" fill="#4a4a4a" stroke="#2a2a2a" stroke-width="0.3"/>
<circle cx="528.6" cy="467.8" r="1.9" fill="#4a4a4a" stroke="#2a2a2a" stroke-width="0.3"/>
<circle cx="559.5" cy="473.9" r="1.9" fill="#4a4a4a" stroke="#2a2a2a" stroke-width="0.3"/>
<circle cx="551.4" cy="461.0" r="1.9" fill="#4a4a4a" stroke="#2a2a2a" stroke-width="0.3"/>
<circle cx="564.9" cy="471.0" r="1.9" fill="#4a4a4a" stroke="#2a2a2a" stroke-width="0.3"/>
<circle cx="555.8" cy="471.8" r="1.9" fill="#4a4a4a" stroke="#2a2a2a" stroke-width="0.3"/>
<circle cx="531.3" cy="463.5" r="1.9" fill="#4a4a4a" stroke="#2a2a2a" stroke-width="0.3"/>
<circle cx="535.7" cy="476.3" r="1.9" fill="#4a4a4a" stroke="#2a2a2a" stroke-width="0.3"/>
<circle cx="535.3" cy="467.6" r="1.9" fill="#4a4a4a" stroke="#2a2a2a" stroke-width="0.3"/>
<circle cx="542.6" cy="472.5" r="1.9" fill="#4a4a4a" stroke="#2a2a2a" stroke-width="0.3"/>
<circle cx="552.8" cy="470.6" r="1.9" fill="#4a4a4a" stroke="#2a2a2a" stroke-width="0.3"/>
<circle cx="538.6" cy="460.7" r="1.9" fill="#4a4a4a" stroke="#2a2a2a" stroke-width="0.3"/>
<circle cx="548.3" cy="470.7" r="1.9" fill="#4a4a4a" stroke="#2a2a2a" stroke-width="0.3"/>
<circle cx="560.6" cy="468.5" r="1.9" fill="#4a4a4a" stroke="#2a2a2a" stroke-width="0.3"/>
<circle cx="537.9" cy="471.4" r="1.9" fill="#4a4a4a" stroke="#2a2a2a" stroke-width="0.3"/>
<circle cx="530.9" cy="464.4" r="1.9" fill="#4a4a4a" stroke="#2a2a2a" stroke-width="0.3"/>
<circle cx="533.5" cy="470.6" r="1.9" fill="#4a4a4a" stroke="#2a2a2a" stroke-width="0.3"/>
<circle cx="564.0" cy="472.0" r="1.9" fill="#4a4a4a" stroke="#2a2a2a" stroke-width="0.3"/>
<circle cx="559.8" cy="470.3" r="1.9" fill="#4a4a4a" stroke="#2a2a2a" stroke-width="0.3"/>
<circle cx="549.8" cy="466.2" r="1.9" fill="#4a4a4a" stroke="#2a2a2a" stroke-width="0.3"/>
<circle cx="543.8" cy="460.3" r="1.9" fill="#4a4a4a" stroke="#2a2a2a" stroke-width="0.3"/>
<circle cx="533.9" cy="463.2" r="1.9" fill="#4a4a4a" stroke="#2a2a2a" stroke-width="0.3"/>
<circle cx="556.3" cy="472.7" r="1.9" fill="#4a4a4a" stroke="#2a2a2a" stroke-width="0.3"/>
</g>

<g fill="none" stroke="#1a1a1a" stroke-width="3.4" stroke-linecap="round"><path d="M607.5,322 Q605,300 598.6,289.5"/><path d="M610.5,322 L609.2,284.5"/><path d="M613.5,322 Q618,300 634,289.5"/></g>
<rect x="604.6" y="320.5" width="14" height="17" fill="url(#f1neck)"/>
<rect x="604" y="320" width="15" height="3" rx="1" fill="#2a2a2a"/>
<rect x="594.5" y="333.5" width="42" height="5" fill="#7a7468"/>
<rect x="594" y="332" width="6" height="7" rx="1.5" fill="#5e5a50"/>
<circle cx="638.8" cy="336" r="5" fill="none" stroke="#4e4a44" stroke-width="1.8"/>
<rect x="599.7" y="339" width="24.1" height="74.6" fill="url(#f1body)"/>
<rect x="599.7" y="368" width="24.1" height="7" fill="#b8b4aa" opacity="0.8"/>
<rect x="599.7" y="382" width="24.1" height="3" fill="#6a665e" opacity="0.7"/>
<rect x="599.7" y="395" width="24.1" height="4" fill="#5a564e" opacity="0.8"/>
<rect x="599.7" y="404" width="24.1" height="3" fill="#6a665e" opacity="0.7"/>
<rect x="664.8" y="323.3" width="17.8" height="89.2" rx="1" fill="url(#f2body)"/>
<rect x="663.5" y="400" width="20.4" height="10" fill="#6a5530" opacity="0.7"/>
<rect x="668" y="307" width="11" height="16" rx="4" fill="#7a5a2a"/>
<circle cx="674.2" cy="312.5" r="2.4" fill="#fff"/>
<rect x="652.2" y="319.5" width="44" height="3.5" fill="#8a6a3a"/>
<rect x="690" y="315.5" width="6.5" height="9" rx="1.5" fill="#7a5a30"/>
<circle cx="659" cy="324" r="5" fill="none" stroke="#6a4a2a" stroke-width="1.6"/>
<rect x="651" y="316" width="5" height="8" rx="1" fill="#a08058"/>
<path d="M724.6,313.5 Q746,317 767.8,313.5 L761,323.4 Q746,326 732.2,323.4 Z" fill="#3c3434"/>
<ellipse cx="746.2" cy="312.8" rx="21.6" ry="3" fill="#6e6666" stroke="#3a3232" stroke-width="0.5"/>
<rect x="742.6" y="323" width="7.4" height="11" fill="#6a2c32"/>
<rect x="710" y="326.8" width="65" height="3.6" fill="#7a4a3e"/>
<rect x="709.8" y="323.5" width="9" height="9.5" rx="3" fill="#4e2e2a"/>
<rect x="769.5" y="323.8" width="5.8" height="9" rx="1.5" fill="#5a3a34"/>
<path d="M715,330 L713,340" stroke="#5a3a30" stroke-width="1.6"/>
<rect x="725.7" y="332.7" width="43" height="64.1" rx="3" fill="url(#f3body)"/>
<rect x="725.7" y="355" width="43" height="7" fill="#5a4a48" opacity="0.8"/>
<rect x="725.7" y="389" width="43" height="7" fill="#8a6a58" opacity="0.85"/>
<rect x="739.3" y="396.8" width="16.8" height="10.5" rx="2" fill="#7a5040"/>
<path d="M821,274 Q823.5,271.5 826,274 L826.6,286 L820.4,286 Z" fill="url(#f4body)"/>
<rect x="818.9" y="285.7" width="9" height="11" fill="url(#f4body)"/>
<rect x="805.7" y="295.8" width="37.8" height="3.2" fill="#6a5e4e"/>
<rect x="805.7" y="294" width="6" height="7" rx="1.5" fill="#6a6050"/>
<rect x="833" y="293.8" width="10.6" height="7.2" rx="2" fill="#7a6a56"/>
<rect x="816.8" y="299.3" width="14" height="104" fill="url(#f4body)"/>
<rect x="818.2" y="402" width="11.3" height="10.5" fill="#4a3a2a"/>
<rect x="888.6" y="314.6" width="21.4" height="8.6" rx="4.3" fill="none" stroke="#1a1a1a" stroke-width="2.2"/>
<rect x="898" y="314" width="3" height="9" fill="#1a1a1a"/>
<rect x="894" y="323.3" width="15.7" height="78" rx="1.5" fill="url(#f5body)"/>
<rect x="893" y="398" width="17.5" height="10.3" rx="1" fill="#262626"/>
<ellipse cx="962.8" cy="364.4" rx="19.5" ry="18.2" fill="none" stroke="#a07048" stroke-width="1.8"/>
<rect x="963.5" y="342" width="3" height="8" fill="#8a6040"/>
<path d="M952.7,358 Q952.7,349 964.8,349 Q976.9,349 976.9,358 L976.9,394.7 L952.7,394.7 Z" fill="url(#f6body)"/>
<rect x="958" y="394.7" width="14.7" height="13.6" fill="url(#f6body)"/>
<g stroke="#7a4a2a" stroke-width="0.8"><line x1="958" y1="398" x2="972.7" y2="398"/><line x1="958" y1="401.5" x2="972.7" y2="401.5"/><line x1="958" y1="405" x2="972.7" y2="405"/></g>

<!-- panel titles -->
<text x="543.7" y="26" font-size="14" class="b" fill="#1e1e1e" textLength="341.2" lengthAdjust="spacingAndGlyphs">Различные способы снаряжения мины S.Mi.35</text>
<text x="646.6" y="270.8" font-size="12.8" class="b" fill="#1e1e1e" textLength="310.6" lengthAdjust="spacingAndGlyphs">Взрываетли для снаряжения мины S.Mi.35</text>

<!-- fuse labels -->
<g font-size="11.2" fill="#2a2a2a">
<text x="589.5" y="428.9" textLength="53" lengthAdjust="spacingAndGlyphs">S.Mi.Z.35</text>
<text x="658.4" y="428.9" textLength="28.4" lengthAdjust="spacingAndGlyphs">ZZ35</text>
<text x="734.5" y="428.9" textLength="30.6" lengthAdjust="spacingAndGlyphs">DZ35</text>
<text x="804.7" y="428.9" textLength="39.6" lengthAdjust="spacingAndGlyphs">Zu.Z35</text>
<text x="880.6" y="428.9" textLength="49.8" lengthAdjust="spacingAndGlyphs">Zug.Z.42</text>
<text x="946" y="428.9" textLength="43.3" lengthAdjust="spacingAndGlyphs">An.Z.29</text>
</g>

<!-- photo captions -->
<text x="377.6" y="375.6" font-size="11.2" fill="#2a2a2a" textLength="141.6" lengthAdjust="spacingAndGlyphs">ящик для переноски мин</text>
<text x="354.4" y="496" font-size="11.5" fill="#2a2a2a" textLength="194.6" lengthAdjust="spacingAndGlyphs">Мина S.Mi.35 в разобранном виде</text>

<g font-size="12.2" font-weight="bold" fill="#1f1f1f" stroke="#1f1f1f" stroke-width="0.25">
<text x="4.2" y="511.8" textLength="201.5" lengthAdjust="spacingAndGlyphs">1 - Treibladung - вышибной заряд</text>
<text x="4.2" y="525.4" textLength="268.8" lengthAdjust="spacingAndGlyphs">2 - Verdammungsscheibe - прижимная шайба</text>
<text x="4.2" y="539.0" textLength="239.5" lengthAdjust="spacingAndGlyphs">3 - Schraube - винт (прижимной шайбы)</text>
<text x="4.2" y="552.7" textLength="179.4" lengthAdjust="spacingAndGlyphs">4 - Боевой заряд, ВВ (Тротил)</text>
<text x="4.2" y="566.3" textLength="105.8" lengthAdjust="spacingAndGlyphs">5 - Boden - днище</text>
<text x="4.2" y="579.9" textLength="257.0" lengthAdjust="spacingAndGlyphs">6 - Verzogerungssatz - Трубка замедлителя</text>
<text x="4.2" y="593.5" textLength="159.5" lengthAdjust="spacingAndGlyphs">вспомогательного запала.</text>
<text x="4.2" y="607.1" textLength="238.8" lengthAdjust="spacingAndGlyphs">7 - Stahlkugeln - металлические шарики</text>
<text x="4.2" y="620.8" textLength="183.8" lengthAdjust="spacingAndGlyphs">8 - Topf - стакан,Mantel- корпус</text>
<text x="4.2" y="634.4" textLength="307.8" lengthAdjust="spacingAndGlyphs">9 - Zundkanal - запальный канал вспомогательных</text>
<text x="4.2" y="648.0" textLength="48.3" lengthAdjust="spacingAndGlyphs">запалов</text>
<text x="4.2" y="661.6" textLength="235.3" lengthAdjust="spacingAndGlyphs">10 - Innerer mantel - внутренний корпус</text>
<text x="4.2" y="675.2" textLength="265.8" lengthAdjust="spacingAndGlyphs">11 - Standrohr - крепежная трубка с каналом</text>
<text x="4.2" y="688.9" textLength="108.8" lengthAdjust="spacingAndGlyphs">основного запала</text>
<text x="317.4" y="512.3" textLength="121.6" lengthAdjust="spacingAndGlyphs">12 - Deckel - крышка</text>
<text x="317.4" y="525.9" textLength="221.6" lengthAdjust="spacingAndGlyphs">13 - Fullschraube - резьбовая пробка</text>
<text x="317.4" y="539.5" textLength="258.1" lengthAdjust="spacingAndGlyphs">14 - Verschlusschraube -навинчивающаяся</text>
<text x="317.4" y="553.2" textLength="47.2" lengthAdjust="spacingAndGlyphs">крышка</text>
<text x="317.4" y="566.8" textLength="105.1" lengthAdjust="spacingAndGlyphs">15 - Mutter - гайка</text>
<text x="317.4" y="580.4" textLength="190.6" lengthAdjust="spacingAndGlyphs">16 - Verschlusskappe - колпачок</text>
<text x="317.4" y="594.0" textLength="227.6" lengthAdjust="spacingAndGlyphs">17 - Прокладка из пеньковой веревки</text>
<text x="317.4" y="607.6" textLength="143.2" lengthAdjust="spacingAndGlyphs">18 - Деревянная пробка</text>
<text x="317.4" y="621.3" textLength="174.1" lengthAdjust="spacingAndGlyphs">19 - Вспомогательный запал</text>
<text x="317.4" y="634.9" textLength="208.0" lengthAdjust="spacingAndGlyphs">20 - Трубка замедлителя основого</text>
<text x="320.4" y="648.5" textLength="42.1" lengthAdjust="spacingAndGlyphs">запала</text>
<text x="317.4" y="662.1" textLength="123.1" lengthAdjust="spacingAndGlyphs">21 - Стопорной винт</text>
<text x="317.4" y="675.7" textLength="151.6" lengthAdjust="spacingAndGlyphs">22 - Свинцовая пластина</text>
</g>
<g font-size="11.3" fill="#262626">
<text x="659.2" y="448.6" font-weight="bold" textLength="248" lengthAdjust="spacingAndGlyphs">Тактико-технические характеристики мины</text>
<text x="921" y="448.6" font-weight="bold" textLength="46.2" lengthAdjust="spacingAndGlyphs">S. Mi. 35</text>
<text x="584.8" y="474.4" textLength="366.8" lengthAdjust="spacingAndGlyphs">Тип мины - противопехотная осколочная,выпрыгивающая,кругового</text>
<text x="584.8" y="487.3" textLength="61.0" lengthAdjust="spacingAndGlyphs">поражения</text>
<text x="584.8" y="500.2" textLength="239.8" lengthAdjust="spacingAndGlyphs">Длина одного натяжного датчика цели - 16м</text>
<text x="584.8" y="513.0" textLength="160.0" lengthAdjust="spacingAndGlyphs">Высота (по корпусу) - 12.8см.</text>
<text x="584.8" y="525.9" textLength="143.0" lengthAdjust="spacingAndGlyphs">Диаметр корпуса - 102 см.</text>
<text x="584.8" y="538.8" textLength="101.0" lengthAdjust="spacingAndGlyphs">Чувствительность:</text>
<text x="584.8" y="551.7" textLength="350.2" lengthAdjust="spacingAndGlyphs">нажимного датчика цели - 2-5 кг., натяжного датчика цели - 3-5кг.</text>
<text x="584.8" y="564.6" textLength="250.0" lengthAdjust="spacingAndGlyphs">Диаметр зоны нажимного датчика цели - 5 см.</text>
<text x="584.8" y="577.4" textLength="115.4" lengthAdjust="spacingAndGlyphs">Масса мины - 4.1-5кг.</text>
<text x="584.8" y="590.3" textLength="331.7" lengthAdjust="spacingAndGlyphs">Масса ВВ (тротил, аммонит, аммонал,шнейдерит) 180-450гр.</text>
<text x="584.8" y="603.2" textLength="153.0" lengthAdjust="spacingAndGlyphs">Радиус поражения - 15-20м.</text>
<text x="584.8" y="616.1" textLength="400.2" lengthAdjust="spacingAndGlyphs">Время приведения в боевое положение -мгновенно, после удаления чеки</text>
<text x="584.8" y="629.0" textLength="265.8" lengthAdjust="spacingAndGlyphs">Масса вышибного заряда (дымный порох) - 50гр.</text>
<text x="584.8" y="641.8" textLength="302.3" lengthAdjust="spacingAndGlyphs">Количество поражающих элементов (шарики) - 320-365</text>
<text x="584.8" y="654.7" textLength="312.8" lengthAdjust="spacingAndGlyphs">Температурный диапазон применения&#160; -30 - +40 градусов</text>
<text x="584.8" y="667.6" textLength="147.4" lengthAdjust="spacingAndGlyphs">Применяемые взрыватели:</text>
<text x="584.8" y="680.5" textLength="323.0" lengthAdjust="spacingAndGlyphs"><tspan font-weight="bold">Z.Z.35</tspan>,<tspan font-weight="bold">S.Mi.Z35</tspan>,S.Mi.Z44,Zu.Z.Z.35,E.S.Mi.Z40,<tspan font-weight="bold">Z.Z.42</tspan>,<tspan font-weight="bold">D.Z.35</tspan></text>
</g>

<!--SPECS-->

</svg>
</body></html>
